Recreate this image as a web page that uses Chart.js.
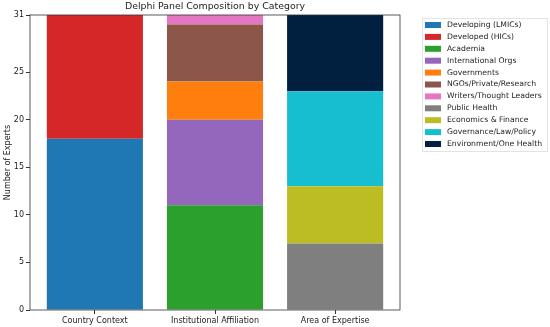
<!DOCTYPE html>
<html>
<head>
<meta charset="utf-8">
<script src="https://cdn.jsdelivr.net/npm/chart.js@4"></script>
<style>
  body { margin: 0; background: #fff; }
  #wrap { width: 550px; height: 327px; }
</style>
</head>
<body>
<div id="wrap"><canvas id="myChart" width="550" height="327"></canvas></div>
<script>
// categories on x
const categories = ['Country Context', 'Institutional Affiliation', 'Area of Expertise'];

// series: one per legend entry, values per category
const seriesNames = [
  'Developing (LMICs)', 'Developed (HICs)',
  'Academia', 'International Orgs', 'Governments', 'NGOs/Private/Research', 'Writers/Thought Leaders',
  'Public Health', 'Economics & Finance', 'Governance/Law/Policy', 'Environment/One Health'
];
const developing = [18, 0, 0];
const developed = [13, 0, 0];
const academia = [0, 11, 0];
const intlOrgs = [0, 9, 0];
const governments = [0, 4, 0];
const ngos = [0, 6, 0];
const writers = [0, 1, 0];
const publicHealth = [0, 0, 7];
const economics = [0, 0, 6];
const governance = [0, 0, 10];
const environment = [0, 0, 8];
const yTicks = [0, 5, 10, 15, 20, 25, 31];

const seriesValues = [developing, developed, academia, intlOrgs, governments, ngos, writers,
  publicHealth, economics, governance, environment];
const colors = ['#1f77b4', '#d62728', '#2ca02c', '#9467bd', '#ff7f0e', '#8c564b', '#e377c2',
  '#7f7f7f', '#bcbd22', '#17becf', '#011f3f'];

const font = 'DejaVu Sans';
Chart.defaults.font.family = font;
Chart.defaults.color = '#222';

// frame, title and boxed legend like matplotlib
const extras = {
  id: 'extras',
  afterDraw(chart) {
    const c = chart.ctx, a = chart.chartArea;
    c.save();
    c.strokeStyle = '#333';
    c.lineWidth = 0.8;
    c.strokeRect(a.left, a.top, a.right - a.left, a.bottom - a.top);

    c.fillStyle = '#222';
    c.font = '9.4px ' + font;
    c.textAlign = 'center';
    c.textBaseline = 'middle';
    c.fillText('Delphi Panel Composition by Category', (a.left + a.right) / 2, 7);

    // legend
    const lx = 422, ly = 18, lw = 125, lh = 133;
    c.strokeStyle = '#ddd';
    c.lineWidth = 0.8;
    c.strokeRect(lx + 0.5, ly + 0.5, lw, lh);
    c.font = '7.7px ' + font;
    c.textAlign = 'left';
    chart.data.datasets.forEach((ds, i) => {
      const y = 25 + i * 11.9;
      c.fillStyle = ds.backgroundColor;
      c.fillRect(lx + 3, y - 3, 16, 6);
      c.fillStyle = '#222';
      c.fillText(ds.label, lx + 25, y);
    });
    c.restore();
  }
};

const ctx = document.getElementById('myChart').getContext('2d');
const myChart = new Chart(ctx, {
  type: 'bar',
  data: {
    datasets: seriesNames.map((name, i) => ({
      label: name,
      data: seriesValues[i].map((v, j) => ({ x: j, y: v })),
      backgroundColor: colors[i],
      borderWidth: 0,
      barPercentage: 0.8,
      categoryPercentage: 1
    }))
  },
  options: {
    responsive: false,
    animation: false,
    layout: { padding: { left: 0, top: 15, right: 150, bottom: 0 } },
    plugins: {
      legend: { display: false },
      tooltip: { enabled: false }
    },
    scales: {
      x: {
        type: 'linear',
        stacked: true,
        offset: false,
        min: -0.54,
        max: 2.54,
        afterBuildTicks: (s) => { s.ticks = categories.map((c, i) => ({ value: i })); },
        grid: { drawOnChartArea: false, offset: false, tickLength: 4, color: '#333' },
        border: { display: false },
        ticks: { font: { size: 8 }, color: '#222', padding: 2, maxRotation: 0,
          callback: (v) => categories[v] },
        afterFit: (s) => { s.height = 17; }
      },
      y: {
        stacked: true,
        min: 0,
        max: 31,
        afterBuildTicks: (s) => { s.ticks = yTicks.map(v => ({ value: v })); },
        grid: { drawOnChartArea: false, tickLength: 4, color: '#333' },
        border: { display: false },
        ticks: { font: { size: 8 }, color: '#222', padding: 2 },
        title: { display: true, text: 'Number of Experts', font: { size: 8 }, color: '#222', padding: { top: 3, bottom: 0 } },
        afterFit: (s) => { s.width = 30; }
      }
    }
  },
  plugins: [extras]
});
</script>
</body>
</html>
